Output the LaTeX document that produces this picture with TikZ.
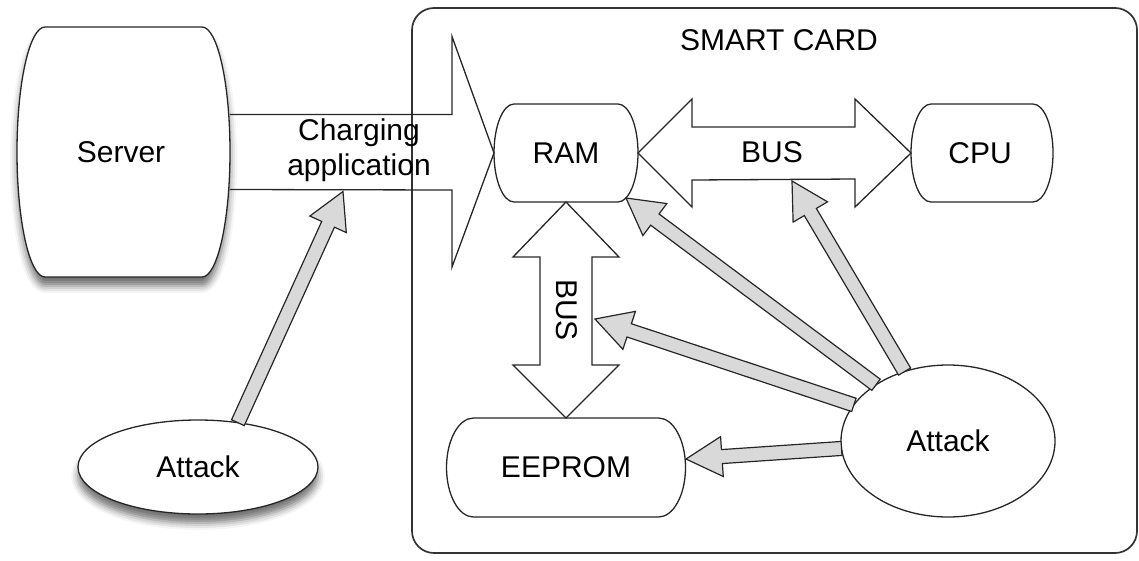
\documentclass[tikz,border=0pt]{standalone}
\usepackage{fontspec}
\setmainfont{Liberation Sans}
\usetikzlibrary{calc,shapes.geometric,shadows.blur}
\tikzset{
  lbl/.style={font=\fontsize{30}{35}\selectfont, align=center, inner sep=0pt, outer sep=0pt},
  outline/.style={draw=black!85, line width=1.3pt, line join=miter},
  boxn/.style={inner sep=0pt, outer sep=0pt, minimum width=#1},
  garrow/.style={draw=black!85, line width=1.2pt, fill=black!15, line join=miter},
  softshadow/.style={blur shadow={shadow xshift=0pt, shadow yshift=-9pt, shadow blur radius=7pt, shadow opacity=55}},
  ellnode/.style={ellipse, outline, lbl}
}
% barrel outline around a named node: [options]{node}{dx}{half height}
\newcommand\barrel[4][]{%
  \path[outline, fill=white, #1] ($(#2.north west)+(#3,0)$) -- ($(#2.north east)+(-#3,0)$)
    .. controls +(0.552*#3,0) and +(0,-0.552*#4) .. (#2.east)
    .. controls +(0,0.552*#4) and +(0.552*#3,0) .. ($(#2.south east)+(-#3,0)$)
    -- ($(#2.south west)+(#3,0)$)
    .. controls +(-0.552*#3,0) and +(0,0.552*#4) .. (#2.west)
    .. controls +(0,-0.552*#4) and +(-0.552*#3,0) .. ($(#2.north west)+(#3,0)$) -- cycle;}
% grey block arrow from #1 to #2
\newcommand\gblock[2]{%
  \path[garrow] let \p1=($(#2)-(#1)$), \n1={atan2(\y1,\x1)}, \n2={veclen(\x1,\y1)-36pt} in
    ($(#1)+(\n1+90:7pt)$) -- ($(#1)+(\n1:\n2)+(\n1+90:7pt)$)
    -- ($(#1)+(\n1:\n2)+(\n1+90:20pt)$) -- (#2)
    -- ($(#1)+(\n1:\n2)+(\n1-90:20pt)$) -- ($(#1)+(\n1:\n2)+(\n1-90:7pt)$)
    -- ($(#1)+(\n1-90:7pt)$) -- cycle;}
\begin{document}
\begin{tikzpicture}[x=1pt, y=-1pt]
\useasboundingbox (0,0) rectangle (1139,560);
% smart card
\draw[draw=black!80, line width=1.7pt, rounded corners=22pt] (412,8) rectangle (1137,553);
\node[lbl] (title) at (779,40) {SMART CARD};

% box frames
\node[boxn=213pt, minimum height=250pt] (server) at (123.5,152) {};
\node[boxn=144pt, minimum height=98pt] (ram) at (566,153) {};
\node[boxn=142pt, minimum height=98pt] (cpu) at (982,153) {};
\node[boxn=239pt, minimum height=99pt] (eeprom) at (566,467.5) {};
\barrel[softshadow]{server}{28}{125}
\barrel{ram}{20}{49}
\barrel{cpu}{20}{49}
\barrel{eeprom}{27}{49.5}
\node[lbl] (serverT) at (121,152) {Server};
\node[lbl] (ramT) at (ram) {RAM};
\node[lbl] (cpuT) at (980,153) {CPU};
\node[lbl] (eepromT) at (eeprom) {EEPROM};

% attacks
\node[ellnode, fill=white, softshadow, minimum width=240pt, minimum height=94pt] (attackL) at (198,467) {Attack};
\node[ellnode, minimum width=214pt, minimum height=152pt] (attackR) at (948,441) {Attack};

% charging application arrow
\draw[outline] ($(server.east)+(0,-37.5)$) -- ++(222,0) -- ++(0,-78) -- (ram.west)
  -- ($(server.east)+(222,115)$) -- ++(0,-77) -- ($(server.east)+(0,37.5)$);
\node[lbl] (app) at (359,150) {Charging\\application};

% bus arrows
\draw[outline] (ram.east) -- ++(54,-54) -- ++(0,28) -- ($(cpu.west)+(-56,-26)$) -- ++(0,-28)
  -- (cpu.west) -- ++(-56,54) -- ++(0,-28) -- ($(ram.east)+(54,27)$) -- ++(0,27) -- cycle;
\node[lbl] (bush) at (772,152) {BUS};
\draw[outline] (ram.south) -- ++(-53,55) -- ++(27,0) -- ($(eeprom.north)+(-26,-53)$) -- ++(-27,0)
  -- (eeprom.north) -- ++(53,-53) -- ++(-27,0) -- ($(ram.south)+(26,55)$) -- ++(27,0) -- cycle;
\node[lbl, rotate=-90] (busv) at (567,310) {BUS};

% attack arrows
\coordinate (appIn) at (343,191.5);
\coordinate (ramIn) at (626,198);
\coordinate (busIn) at (792,181);
\coordinate (vbusIn) at (595,319);
\coordinate (eepIn) at (686,459);
\gblock{attackL.48}{appIn}
\gblock{attackR.142}{ramIn}
\gblock{attackR.122}{busIn}
\gblock{attackR.159}{vbusIn}
\gblock{attackR.184}{eepIn}
\end{tikzpicture}
\end{document}
